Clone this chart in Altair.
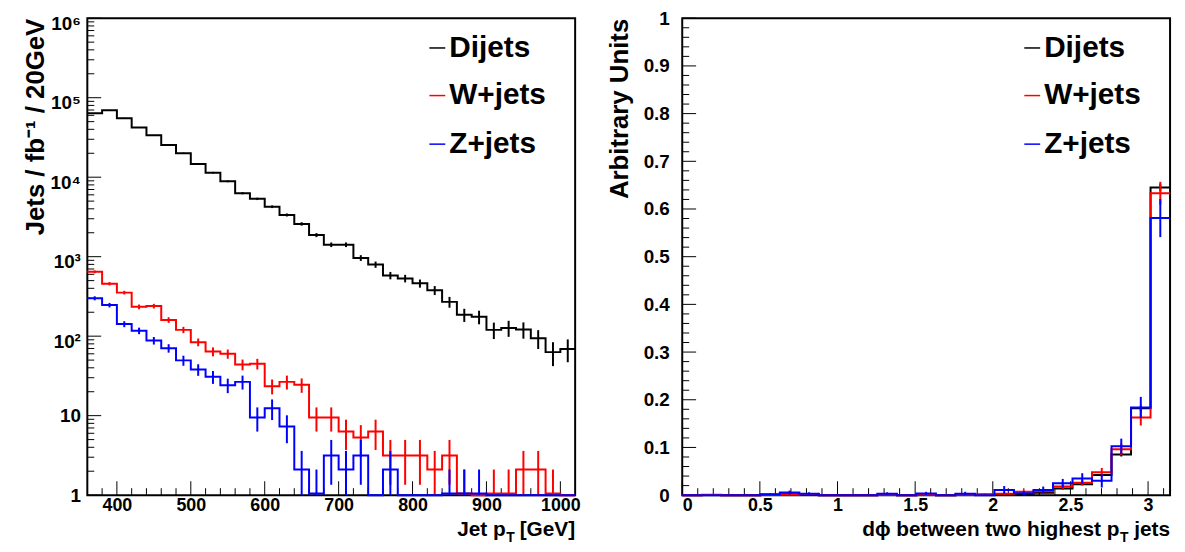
import altair as alt
import numpy as np
import pandas as pd

FONT = "Liberation Sans"
W, H = 492, 481

# ---------------- left panel: jet pT, 20 GeV bins between 360 and 1020 GeV
pt_range = [360, 1020]
pt_bin = 20
dijet_pt = [63700, 69500, 55200, 42300, 33600, 25400, 20000, 14700, 11400, 8880,
            6290, 5340, 4250, 3350, 2585, 1870, 1415, 1415, 965, 796,
            581, 533, 462, 378, 270, 186, 175, 120, 127, 121, 94, 63, 69]
dijet_pt_err = [640, 660, 590, 520, 460, 400, 355, 305, 270, 235,
                200, 185, 165, 145, 128, 108, 94, 94, 80, 72,
                62, 58, 54, 49, 42, 35, 34, 28, 29, 28, 25, 21, 22]
wjet_pt = [645, 457, 353, 234, 239, 160, 120, 84, 64, 60,
           44, 45, 23.5, 26.6, 24.4, 9.5, 9.5, 6.3, 5.3, 6.3,
           3.15, 3.15, 3.15, 2.1, 3.15, 1.05, 0, 1.05, 1.05, 2.1, 2.1, 1.05, 0]
wjet_pt_err = [26, 22, 19, 16, 16, 13, 11, 9.4, 8.2, 7.9,
               6.8, 6.9, 5.0, 5.3, 5.0, 3.2, 3.2, 2.6, 2.3, 2.6,
               1.8, 1.8, 1.8, 1.5, 1.8, 1.05, 0, 1.05, 1.05, 1.5, 1.5, 1.05, 0]
zjet_pt = [300, 246, 142, 117, 88, 70.6, 49.6, 38, 30.8, 24.2,
           26.6, 9.5, 12.4, 7.3, 2.1, 1.05, 3.15, 2.1, 3.15, 0,
           2.1, 0, 0, 0, 1.05, 1.05, 1.05, 0, 0, 0, 0, 0, 0]
zjet_pt_err = [17.7, 16, 12.2, 11, 9.6, 8.6, 7.2, 6.3, 5.7, 5.0,
               5.3, 3.2, 3.6, 2.8, 1.5, 1.05, 1.8, 1.5, 1.8, 0,
               1.5, 0, 0, 0, 1.05, 1.05, 1.05, 0, 0, 0, 0, 0, 0]

# ---------------- right panel: dphi, 25 bins between 0 and pi
dphi_nbins = 25
dijet_dphi = [0, 0.0005, 0, 0, 0.001, 0.002, 0.001, 0, 0, 0,
              0.001, 0, 0.001, 0, 0.001, 0.001, 0.002, 0.002, 0.005, 0.014,
              0.023, 0.042, 0.085, 0.182, 0.645]
dijet_dphi_err = [0, 0, 0, 0, 0, 0, 0, 0, 0, 0,
                  0, 0, 0, 0, 0, 0, 0, 0, 0.001, 0.002,
                  0.002, 0.003, 0.004, 0.006, 0.008]
wjet_dphi = [0, 0.001, 0, 0, 0.001, 0.001, 0.002, 0, 0, 0,
             0.001, 0, 0.001, 0, 0.001, 0.002, 0.003, 0.007, 0.008, 0.018,
             0.026, 0.048, 0.096, 0.163, 0.633]
wjet_dphi_err = [0, 0, 0, 0, 0.001, 0.001, 0.002, 0, 0, 0,
                 0.001, 0, 0.001, 0, 0.001, 0.002, 0.002, 0.003, 0.003, 0.005,
                 0.006, 0.009, 0.012, 0.017, 0.024]
zjet_dphi = [0, 0, 0, 0, 0.002, 0.0055, 0.003, 0, 0, 0,
             0.003, 0, 0.0035, 0, 0.003, 0, 0.011, 0.004, 0.011, 0.025,
             0.035, 0.030, 0.1025, 0.184, 0.581]
zjet_dphi_err = [0, 0, 0, 0, 0.002, 0.004, 0.003, 0, 0, 0,
                 0.003, 0, 0.0035, 0, 0.004, 0, 0.008, 0.004, 0.007, 0.009,
                 0.011, 0.014, 0.016, 0.022, 0.04]

series_names = ["Dijets", "W+jets", "Z+jets"]
series_colors = ["#000000", "#ff0000", "#0000ff"]

# axis tick positions
pt_major = [400, 500, 600, 700, 800, 900, 1000]
pt_minor = [v for v in range(380, 1020, 20) if v % 100 != 0]
log_major = [1, 10, 100, 1000, 10000, 100000, 1000000]
log_minor = [m * 10 ** e for e in range(6) for m in range(2, 10)]
dphi_major = [0, 0.5, 1, 1.5, 2, 2.5, 3]
dphi_minor = [round(0.1 * i, 1) for i in range(1, 32) if i % 5 != 0]
au_major = [round(0.1 * i, 1) for i in range(11)]
au_minor = [round(0.02 * i, 2) for i in range(1, 50) if i % 5 != 0]


def step_frame(edges, vals, floor):
    xs = list(edges[:-1]) + [edges[-1]]
    ys = [max(v, floor) for v in vals] + [max(vals[-1], floor)]
    return pd.DataFrame({"x": xs, "y": ys})


def err_frame(edges, vals, errs, floor):
    rows = []
    for i, (v, e) in enumerate(zip(vals, errs)):
        if e > 0:
            rows.append({"x": 0.5 * (edges[i] + edges[i + 1]),
                         "lo": max(v - e, floor), "hi": v + e})
    return pd.DataFrame(rows, columns=["x", "lo", "hi"])


def tick_layers(X, Y, xmaj, xmin, ymaj, ymin):
    out = []
    out.append(alt.Chart(pd.DataFrame({"x": xmaj})).mark_rule(color="black", strokeWidth=1).encode(
        x=X("x"), y=alt.value(H), y2=alt.value(H - 14)))
    out.append(alt.Chart(pd.DataFrame({"x": xmin})).mark_rule(color="black", strokeWidth=1).encode(
        x=X("x"), y=alt.value(H), y2=alt.value(H - 7)))
    out.append(alt.Chart(pd.DataFrame({"y": ymaj})).mark_rule(color="black", strokeWidth=1).encode(
        y=Y("y"), x=alt.value(0), x2=alt.value(14)))
    out.append(alt.Chart(pd.DataFrame({"y": ymin})).mark_rule(color="black", strokeWidth=1).encode(
        y=Y("y"), x=alt.value(0), x2=alt.value(7)))
    return out


def hist_layers(edges, vals_list, errs_list, X, Y, floor):
    out = []
    for vals, errs, color in zip(vals_list, errs_list, series_colors):
        out.append(alt.Chart(step_frame(edges, vals, floor)).mark_line(
            interpolate="step-after", color=color, strokeWidth=2).encode(x=X("x"), y=Y("y")))
        out.append(alt.Chart(err_frame(edges, vals, errs, floor)).mark_rule(
            color=color, strokeWidth=2).encode(x=X("x"), y=Y("lo"), y2="hi:Q"))
    return out


def legend_layers():
    out = []
    line_y = [30, 78, 127]
    text_y = [39, 87, 136]
    for name, color, ly, ty in zip(series_names, series_colors, line_y, text_y):
        out.append(alt.Chart(pd.DataFrame({"t": [name]})).mark_rule(color=color, strokeWidth=1.5).encode(
            x=alt.value(345), x2=alt.value(361), y=alt.value(ly)))
        out.append(alt.Chart(pd.DataFrame({"t": [name]})).mark_text(
            font=FONT, fontSize=30, fontWeight="bold", color="black", align="left",
            baseline="alphabetic").encode(text="t:N", x=alt.value(365), y=alt.value(ty)))
    return out


def xtitle_layers(main, tail, main_right, sub_right, base_y):
    out = []
    out.append(alt.Chart(pd.DataFrame({"t": [main]})).mark_text(
        font=FONT, fontSize=21, fontWeight="bold", color="black", align="right",
        baseline="alphabetic").encode(text="t:N", x=alt.value(main_right), y=alt.value(base_y)))
    out.append(alt.Chart(pd.DataFrame({"t": ["T"]})).mark_text(
        font=FONT, fontSize=14, fontWeight="bold", color="black", align="right",
        baseline="alphabetic").encode(text="t:N", x=alt.value(sub_right), y=alt.value(base_y + 6)))
    out.append(alt.Chart(pd.DataFrame({"t": [tail]})).mark_text(
        font=FONT, fontSize=21, fontWeight="bold", color="black", align="right",
        baseline="alphabetic").encode(text="t:N", x=alt.value(W), y=alt.value(base_y)))
    return out


common_label = dict(labelFont=FONT, labelFontWeight="bold", labelColor="black",
                    ticks=False, domain=False, grid=False)
common_title = dict(titleFont=FONT, titleFontWeight="bold", titleColor="black",
                    titleFontSize=26, titleAngle=270, titleAlign="right",
                    titleBaseline="alphabetic", titleY=0)

# ---------- left chart
pt_edges = list(range(pt_range[0], pt_range[1] + pt_bin, pt_bin))
xs_l = alt.Scale(domain=pt_range, nice=False, zero=False)
ys_l = alt.Scale(type="log", domain=[1, 1000000], nice=False)
x_axis_l = alt.Axis(values=pt_major, format="d", labelFontSize=18, labelPadding=1,
                    title=None, **common_label)
y_axis_l = alt.Axis(values=log_major, labelFontSize=19, labelPadding=7,
                    labelExpr=("datum.value < 5 ? '1' : datum.value < 50 ? '10' : "
                               "datum.value < 500 ? '10²' : datum.value < 5000 ? '10³' : "
                               "datum.value < 50000 ? '10⁴' : datum.value < 500000 ? '10⁵' : '10⁶'"),
                    labelOffset=alt.condition("datum.value >= 100", alt.value(5), alt.value(0)),
                    title="Jets / fb⁻¹ / 20GeV", titleX=-44, **common_label, **common_title)


def X_l(f):
    return alt.X(f + ":Q", scale=xs_l, axis=x_axis_l, title=None)


def Y_l(f):
    return alt.Y(f + ":Q", scale=ys_l, axis=y_axis_l, title="Jets / fb⁻¹ / 20GeV")


left = alt.layer(
    *tick_layers(X_l, Y_l, pt_major, pt_minor, log_major, log_minor),
    *hist_layers(pt_edges, [dijet_pt, wjet_pt, zjet_pt], [dijet_pt_err, wjet_pt_err, zjet_pt_err],
                 X_l, Y_l, 1),
    *legend_layers(),
    *xtitle_layers("Jet p", " [GeV]", 422, 431, 522),
).properties(width=W, height=H)

# ---------- right chart
dphi_edges = list(np.arange(dphi_nbins + 1) * np.pi / dphi_nbins)
xs_r = alt.Scale(domain=[0, float(np.pi)], nice=False, zero=False)
ys_r = alt.Scale(domain=[0, 1], nice=False)
x_axis_r = alt.Axis(values=dphi_major, labelFontSize=18, labelPadding=1,
                    labelExpr="datum.value % 1 == 0 ? format(datum.value, 'd') : format(datum.value, '.1f')",
                    title=None, **common_label)
y_axis_r = alt.Axis(values=au_major, labelFontSize=19, labelPadding=13,
                    labelExpr="datum.value == 0 ? '0' : datum.value == 1 ? '1' : format(datum.value, '.1f')",
                    title="Arbitrary Units", titleX=-55, **common_label, **common_title)


def X_r(f):
    return alt.X(f + ":Q", scale=xs_r, axis=x_axis_r, title=None)


def Y_r(f):
    return alt.Y(f + ":Q", scale=ys_r, axis=y_axis_r, title="Arbitrary Units")


right = alt.layer(
    *tick_layers(X_r, Y_r, dphi_major, dphi_minor, au_major, au_minor),
    *hist_layers(dphi_edges, [dijet_dphi, wjet_dphi, zjet_dphi],
                 [dijet_dphi_err, wjet_dphi_err, zjet_dphi_err], X_r, Y_r, 0),
    *legend_layers(),
    *xtitle_layers("dϕ between two highest p", " jets", 441, 450, 522),
).properties(width=W, height=H)

chart = alt.hconcat(left, right, spacing=108, bounds="flush").properties(
    padding={"left": 14, "top": -2, "right": 2, "bottom": 0},
    background="white",
).configure_view(stroke="black", strokeWidth=2)

chart.save("out.html", embed_options={"renderer": "svg", "actions": False})
